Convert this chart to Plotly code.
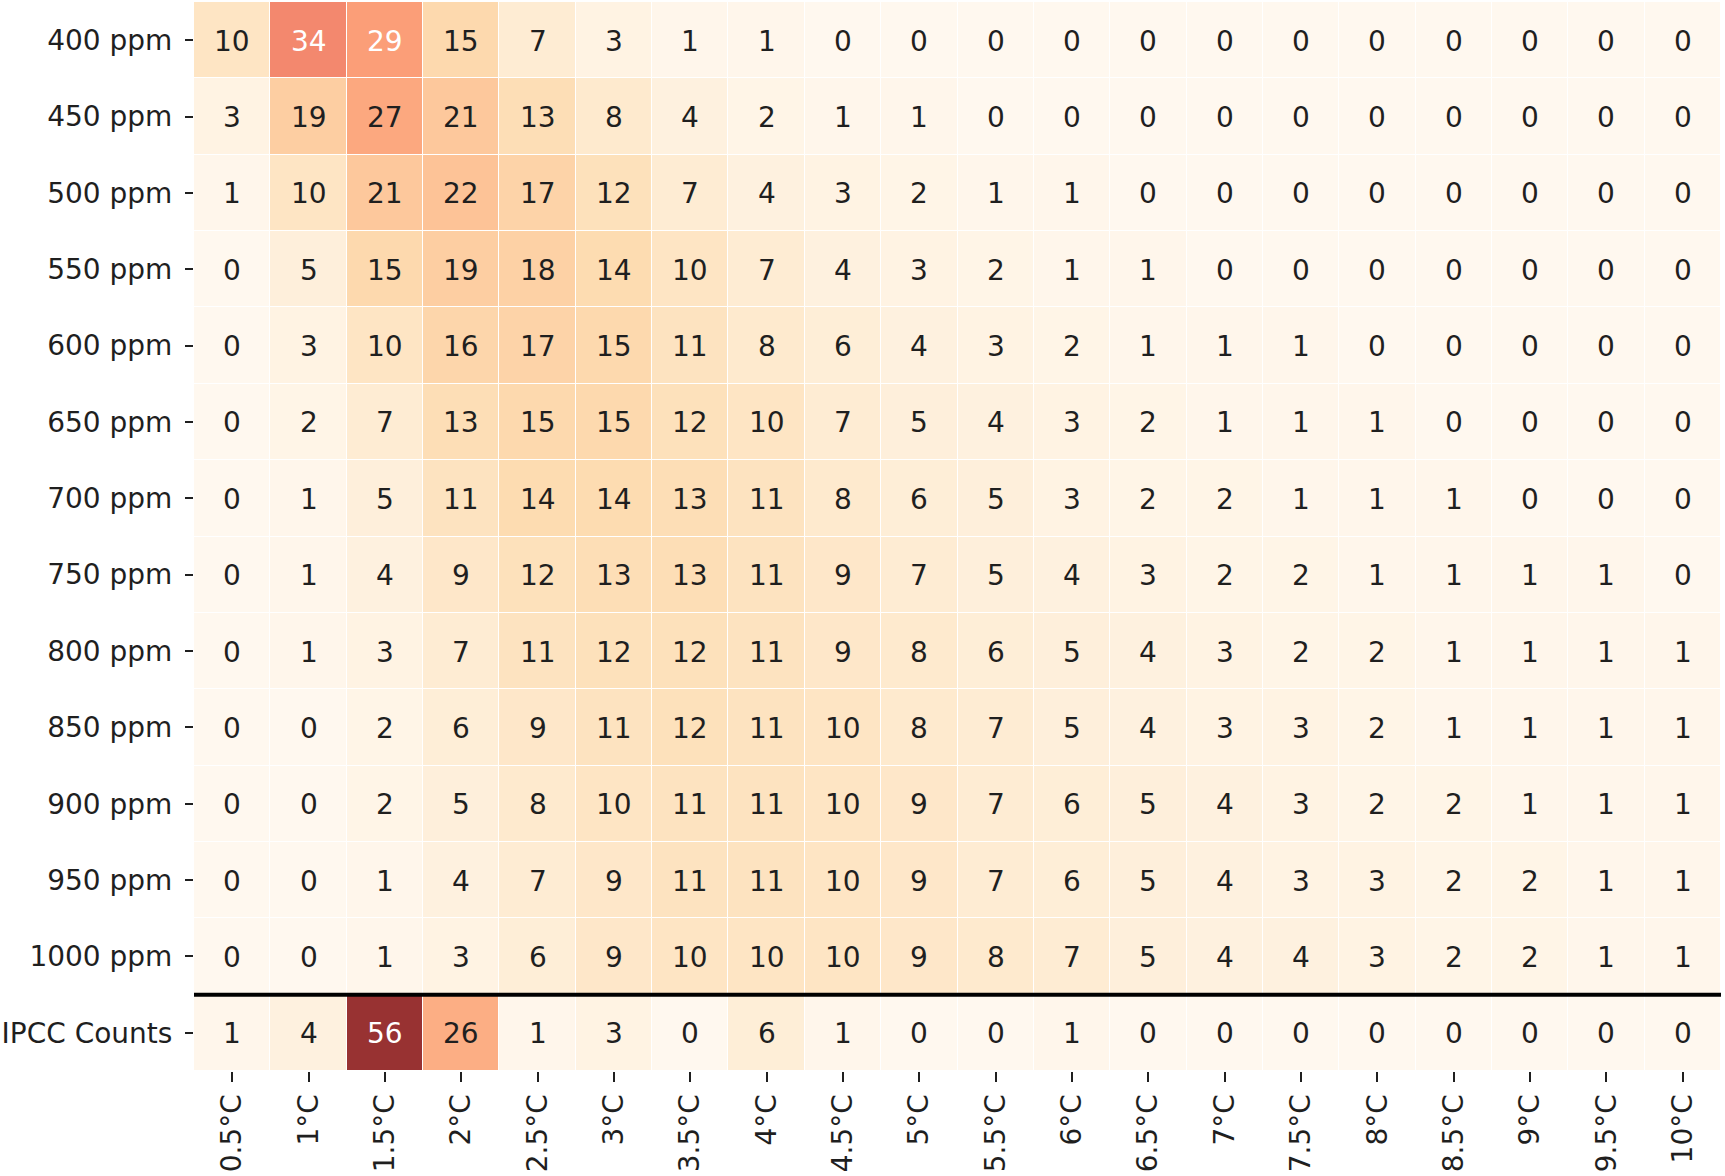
import plotly.graph_objects as go
import plotly.colors as pc

# dados
temps = ['0.5°C', '1°C', '1.5°C', '2°C', '2.5°C', '3°C', '3.5°C', '4°C', '4.5°C', '5°C',
         '5.5°C', '6°C', '6.5°C', '7°C', '7.5°C', '8°C', '8.5°C', '9°C', '9.5°C', '10°C']
linhas = ['400 ppm', '450 ppm', '500 ppm', '550 ppm', '600 ppm', '650 ppm', '700 ppm',
          '750 ppm', '800 ppm', '850 ppm', '900 ppm', '950 ppm', '1000 ppm', 'IPCC Counts']

ppm400 = [10, 34, 29, 15, 7, 3, 1, 1, 0, 0, 0, 0, 0, 0, 0, 0, 0, 0, 0, 0]
ppm450 = [3, 19, 27, 21, 13, 8, 4, 2, 1, 1, 0, 0, 0, 0, 0, 0, 0, 0, 0, 0]
ppm500 = [1, 10, 21, 22, 17, 12, 7, 4, 3, 2, 1, 1, 0, 0, 0, 0, 0, 0, 0, 0]
ppm550 = [0, 5, 15, 19, 18, 14, 10, 7, 4, 3, 2, 1, 1, 0, 0, 0, 0, 0, 0, 0]
ppm600 = [0, 3, 10, 16, 17, 15, 11, 8, 6, 4, 3, 2, 1, 1, 1, 0, 0, 0, 0, 0]
ppm650 = [0, 2, 7, 13, 15, 15, 12, 10, 7, 5, 4, 3, 2, 1, 1, 1, 0, 0, 0, 0]
ppm700 = [0, 1, 5, 11, 14, 14, 13, 11, 8, 6, 5, 3, 2, 2, 1, 1, 1, 0, 0, 0]
ppm750 = [0, 1, 4, 9, 12, 13, 13, 11, 9, 7, 5, 4, 3, 2, 2, 1, 1, 1, 1, 0]
ppm800 = [0, 1, 3, 7, 11, 12, 12, 11, 9, 8, 6, 5, 4, 3, 2, 2, 1, 1, 1, 1]
ppm850 = [0, 0, 2, 6, 9, 11, 12, 11, 10, 8, 7, 5, 4, 3, 3, 2, 1, 1, 1, 1]
ppm900 = [0, 0, 2, 5, 8, 10, 11, 11, 10, 9, 7, 6, 5, 4, 3, 2, 2, 1, 1, 1]
ppm950 = [0, 0, 1, 4, 7, 9, 11, 11, 10, 9, 7, 6, 5, 4, 3, 3, 2, 2, 1, 1]
ppm1000 = [0, 0, 1, 3, 6, 9, 10, 10, 10, 9, 8, 7, 5, 4, 4, 3, 2, 2, 1, 1]
ipcc = [1, 4, 56, 26, 1, 3, 0, 6, 1, 0, 0, 1, 0, 0, 0, 0, 0, 0, 0, 0]

z = [ppm400, ppm450, ppm500, ppm550, ppm600, ppm650, ppm700,
     ppm750, ppm800, ppm850, ppm900, ppm950, ppm1000, ipcc]

# OrRd com alpha 0.8 sobre branco
alpha = 0.8
cores = []
for c in pc.sequential.OrRd:
    r, g, b = pc.unlabel_rgb(c)
    cores.append('rgb(%d,%d,%d)' % (alpha * r + (1 - alpha) * 255,
                                     alpha * g + (1 - alpha) * 255,
                                     alpha * b + (1 - alpha) * 255))
escala = [[i / (len(cores) - 1), c] for i, c in enumerate(cores)]

fonte = 'DejaVu Sans'
escuro = '#1f1f1f'

fig = go.Figure()
fig.add_trace(go.Heatmap(
    z=z, x=list(range(len(temps))), y=list(range(len(linhas))),
    colorscale=escala, zmin=0, zmax=max(max(r) for r in z),
    showscale=False, xgap=1, ygap=1, hoverinfo='skip'))

# anotações (texto branco nas células escuras)
for i, linha in enumerate(z):
    for j, v in enumerate(linha):
        fig.add_annotation(x=j, y=i, text=str(v), showarrow=False, yshift=-1,
                           font=dict(family=fonte, size=28,
                                     color='white' if v > 28 else escuro))

# linha separando IPCC
fig.add_shape(type='line', x0=-0.5, x1=len(temps) - 0.5, y0=12.5, y1=12.5,
              line=dict(color='black', width=4))

fig.update_xaxes(tickvals=list(range(len(temps))), ticktext=temps, tickangle=-90,
                 range=[-0.5, len(temps) - 0.5], showgrid=False, zeroline=False,
                 ticks='outside', ticklen=10, tickwidth=2, tickcolor=escuro,
                 ticklabelstandoff=1, automargin=False,
                 tickfont=dict(family=fonte, size=28, color=escuro))
fig.update_yaxes(tickvals=list(range(len(linhas))), ticktext=linhas,
                 range=[len(linhas) - 0.5, -0.5], showgrid=False, zeroline=False,
                 ticks='outside', ticklen=8, tickwidth=2, tickcolor=escuro,
                 ticklabelstandoff=7, automargin=False,
                 tickfont=dict(family=fonte, size=28, color=escuro))

fig.update_layout(width=1725, height=1176,
                  margin=dict(l=194, r=4, t=2, b=105),
                  paper_bgcolor='white', plot_bgcolor='white',
                  showlegend=False)

# sem margem do body da página
fig.write_html("out.html", config={'displayModeBar': False},
               post_script="document.body.style.margin='0';")
